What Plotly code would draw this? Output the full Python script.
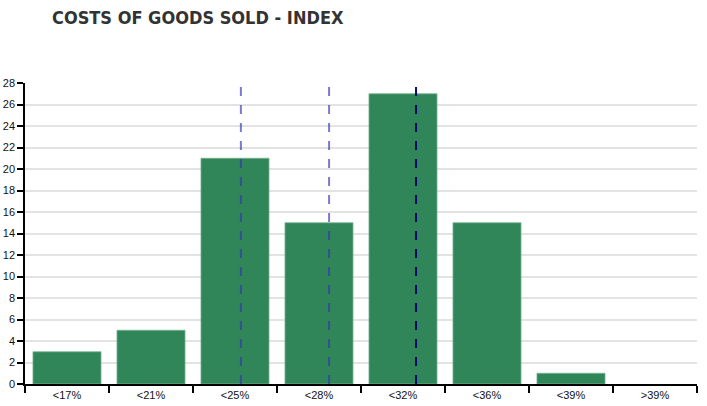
import plotly.graph_objects as go

categories = ["<17%", "<21%", "<25%", "<28%", "<32%", "<36%", "<39%", ">39%"]
counts = [3, 5, 21, 15, 27, 15, 1, 0]
# positions of the dashed reference lines, in category-index units
ref_lines = [2.07, 3.12, 4.155]
ref_colors = ["rgba(50,50,180,0.65)", "rgba(50,50,180,0.65)", "rgba(0,0,110,0.95)"]
ref_widths = [2, 2, 2]
y_ticks = list(range(0, 29, 2))

W, H = 707, 406

fig = go.Figure()
fig.add_trace(go.Bar(
    x=categories, y=counts,
    marker=dict(color="rgb(49,134,89)",
                line=dict(color="rgba(120,180,145,0.8)",
                          width=[1 if v > 0 else 0 for v in counts])),
    width=0.81,
))

for xv, c, w in zip(ref_lines, ref_colors, ref_widths):
    fig.add_shape(type="line", xref="x", yref="paper", x0=xv, x1=xv, y0=0, y1=1,
                  line=dict(color=c, width=w, dash="9px,9px"), layer="above")

fig.update_layout(
    width=W, height=H,
    margin=dict(l=25, r=10, t=83, b=22, autoexpand=False),
    paper_bgcolor="white", plot_bgcolor="white",
    showlegend=False,
    bargap=0.19,
    title=dict(text="<b>COSTS OF GOODS SOLD - INDEX</b>",
               font=dict(family="DejaVu Sans Condensed", size=18, color="#333333"),
               xref="container", yref="container", x=52/W, xanchor="left",
               y=1-18/H, yanchor="middle"),
    font=dict(family="Arial, Liberation Sans", size=11, color="#111111"),
)
fig.update_xaxes(
    type="category", range=[-0.5, 7.5], automargin=False,
    showline=True, linecolor="black", linewidth=1.5,
    ticks="outside", tickson="boundaries", ticklen=7, tickcolor="black", tickwidth=1.5,
    showgrid=False, tickfont=dict(size=11, color="#111111"),
)
fig.update_yaxes(
    range=[0, 28], tickvals=y_ticks, automargin=False,
    showline=True, linecolor="black", linewidth=1.5,
    ticks="outside", ticklen=6, tickcolor="black", tickwidth=1.5,
    showgrid=True, gridcolor="#e3e3e3", gridwidth=1.5,
    zeroline=False, tickfont=dict(size=11, color="#111111"),
)

fig.write_html("out.html", config={"displayModeBar": False},
               post_script="document.body.style.margin='0';")
